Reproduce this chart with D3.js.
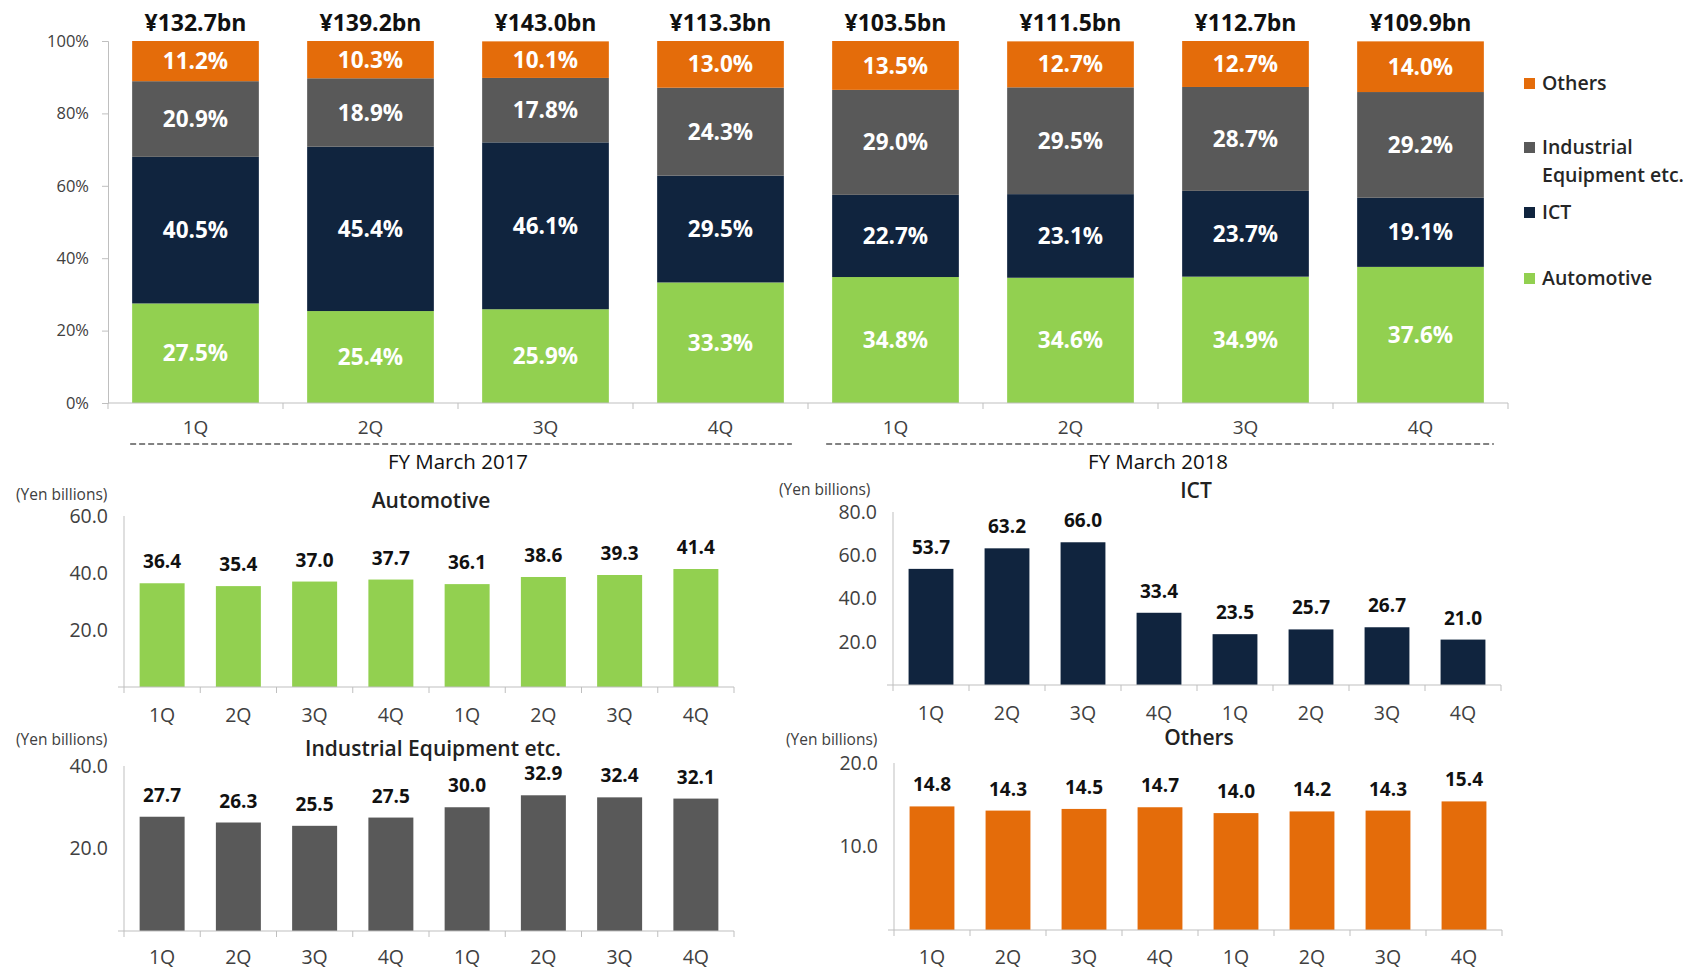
<!DOCTYPE html>
<html lang="en">
<head>
<meta charset="UTF-8">
<title>Sales by segment</title>
<script src="https://cdnjs.cloudflare.com/ajax/libs/d3/7.8.2/d3.min.js"></script>
<style>
  body { margin: 0; background: #fff; font-family: "Open Sans", "Noto Sans", sans-serif; }
  svg text { font-family: "Open Sans", "Noto Sans", sans-serif; }
</style>
</head>
<body>
<svg id="chart" width="1697" height="977"></svg>
<script>
// ---- data ----
const quarters = ["1Q", "2Q", "3Q", "4Q", "1Q", "2Q", "3Q", "4Q"];
const fiscalYears = ["FY March 2017", "FY March 2018"];
const totals = [132.7, 139.2, 143.0, 113.3, 103.5, 111.5, 112.7, 109.9];

const segments = ["Automotive", "ICT", "Industrial Equipment etc.", "Others"];
const sharePct = {
  "Automotive": [27.5, 25.4, 25.9, 33.3, 34.8, 34.6, 34.9, 37.6],
  "ICT": [40.5, 45.4, 46.1, 29.5, 22.7, 23.1, 23.7, 19.1],
  "Industrial Equipment etc.": [20.9, 18.9, 17.8, 24.3, 29.0, 29.5, 28.7, 29.2],
  "Others": [11.2, 10.3, 10.1, 13.0, 13.5, 12.7, 12.7, 14.0]
};

const autoSales = [36.4, 35.4, 37.0, 37.7, 36.1, 38.6, 39.3, 41.4];
const ictSales = [53.7, 63.2, 66.0, 33.4, 23.5, 25.7, 26.7, 21.0];
const industrialSales = [27.7, 26.3, 25.5, 27.5, 30.0, 32.9, 32.4, 32.1];
const othersSales = [14.8, 14.3, 14.5, 14.7, 14.0, 14.2, 14.3, 15.4];

const pctTicks = [0, 20, 40, 60, 80, 100];

const colors = {
  "Automotive": "#92d050",
  "ICT": "#10243e",
  "Industrial Equipment etc.": "#595959",
  "Others": "#e46c0a"
};

const svg = d3.select("#chart");
const axisColor = "#bfbfbf";
const labelColor = "#404040";

// ---- top stacked chart ----
const idx = d3.range(quarters.length);
const x = d3.scaleBand().domain(idx).range([108, 1508]).paddingInner(0.276).paddingOuter(0.138);
const y = d3.scaleLinear().domain([0, 100]).range([403, 41]);

const rows = idx.map(i => {
  const r = { i };
  segments.forEach(s => r[s] = sharePct[s][i]);
  return r;
});
const stacked = d3.stack().keys(segments)(rows);

const topG = svg.append("g");

stacked.forEach(layer => {
  const seg = layer.key;
  const g = topG.append("g");
  g.selectAll("rect").data(layer).join("rect")
    .attr("x", d => x(d.data.i))
    .attr("width", x.bandwidth())
    .attr("y", d => y(Math.min(100, d[1])))
    .attr("height", d => y(d[0]) - y(Math.min(100, d[1])))
    .attr("fill", colors[seg]);
  g.selectAll("text").data(layer).join("text")
    .attr("x", d => x(d.data.i) + x.bandwidth() / 2)
    .attr("y", d => (y(d[0]) + y(Math.min(100, d[1]))) / 2)
    .attr("dy", "0.36em")
    .attr("text-anchor", "middle")
    .attr("fill", "#fff")
    .attr("font-weight", 700)
    .attr("font-size", 22.5)
    .text(d => d.data[seg].toFixed(1) + "%");
});

// totals
topG.append("g").selectAll("text").data(idx).join("text")
  .attr("x", i => x(i) + x.bandwidth() / 2)
  .attr("y", 31)
  .attr("text-anchor", "middle")
  .attr("font-weight", 700)
  .attr("font-size", 23)
  .attr("fill", "#111")
  .text(i => "¥" + totals[i].toFixed(1) + "bn");

// y axis
const yAxis = topG.append("g")
  .attr("transform", "translate(108,0)")
  .call(d3.axisLeft(y).tickValues(pctTicks).tickFormat(d => d + "%").tickSize(6).tickPadding(13));
yAxis.selectAll("line, path").attr("stroke", axisColor);
yAxis.selectAll("text").attr("font-size", 16.5).attr("fill", labelColor).attr("font-family", "Open Sans");

// x axis line and ticks at band boundaries
const xAxisG = topG.append("g");
xAxisG.append("line").attr("x1", 108).attr("x2", 1508).attr("y1", 403).attr("y2", 403).attr("stroke", axisColor);
const step = x.step();
xAxisG.selectAll(".tk").data(d3.range(quarters.length + 1)).join("line")
  .attr("class", "tk")
  .attr("x1", k => 108 + k * step).attr("x2", k => 108 + k * step)
  .attr("y1", 403).attr("y2", 409).attr("stroke", axisColor);
xAxisG.selectAll("text").data(idx).join("text")
  .attr("x", i => x(i) + x.bandwidth() / 2)
  .attr("y", 434)
  .attr("text-anchor", "middle")
  .attr("font-size", 19)
  .attr("fill", labelColor)
  .text(i => quarters[i]);

// fiscal year brackets
fiscalYears.forEach((fy, k) => {
  const first = x(k * 4), last = x(k * 4 + 3) + x.bandwidth();
  const x1 = k === 0 ? first - 2 : first - 6;
  const x2 = k === 0 ? last + 8 : last + 10;
  topG.append("line")
    .attr("x1", x1).attr("x2", x2).attr("y1", 444).attr("y2", 444)
    .attr("stroke", "#595959").attr("stroke-width", 1.6).attr("stroke-dasharray", "6,3");
  topG.append("text")
    .attr("x", (first + last) / 2).attr("y", 469)
    .attr("text-anchor", "middle")
    .attr("font-size", 20.5)
    .attr("fill", "#111")
    .text(fy);
});

// legend (top-down order: Others, Industrial, ICT, Automotive)
const legendItems = [
  { key: "Others", lines: ["Others"], y: 83 },
  { key: "Industrial Equipment etc.", lines: ["Industrial", "Equipment etc."], y: 147 },
  { key: "ICT", lines: ["ICT"], y: 212 },
  { key: "Automotive", lines: ["Automotive"], y: 278 }
];
const legend = svg.append("g");
legendItems.forEach(it => {
  legend.append("rect").attr("x", 1524).attr("y", it.y - 5).attr("width", 11).attr("height", 11).attr("fill", colors[it.key]);
  it.lines.forEach((ln, j) => {
    legend.append("text")
      .attr("x", 1542).attr("y", it.y + j * 28)
      .attr("dy", "0.36em")
      .attr("font-size", 19.5)
      .attr("font-weight", 600)
      .attr("fill", "#262626")
      .text(ln);
  });
});

// ---- small bar charts ----
function smallChart(opt) {
  const g = svg.append("g");
  const sx = d3.scaleBand().domain(idx).range([opt.x0, opt.x1]).paddingInner(0.41).paddingOuter(0.205);
  const sy = d3.scaleLinear().domain([0, opt.max]).range([opt.yb, opt.yt]);

  g.selectAll("rect").data(opt.values).join("rect")
    .attr("x", (d, i) => sx(i))
    .attr("width", sx.bandwidth())
    .attr("y", d => sy(d))
    .attr("height", d => sy(0) - sy(d))
    .attr("fill", opt.color);

  g.selectAll(".val").data(opt.values).join("text")
    .attr("class", "val")
    .attr("x", (d, i) => sx(i) + sx.bandwidth() / 2)
    .attr("y", d => sy(d) - 15)
    .attr("text-anchor", "middle")
    .attr("font-weight", 700)
    .attr("font-size", 19)
    .attr("fill", "#111")
    .text(d => d.toFixed(1));

  const ya = g.append("g")
    .attr("transform", `translate(${opt.x0},0)`)
    .call(d3.axisLeft(sy).tickValues(opt.ticks).tickFormat(d3.format(".1f")).tickSize(0).tickPadding(16));
  ya.select("path").remove();
  ya.append("line").attr("x1", 0).attr("x2", 0).attr("y1", opt.yt).attr("y2", opt.yb).attr("stroke", axisColor);
  ya.append("line").attr("x1", -6).attr("x2", 0).attr("y1", opt.yb).attr("y2", opt.yb).attr("stroke", axisColor);
  ya.selectAll("text").attr("font-size", 19.5).attr("fill", labelColor).attr("font-family", "Open Sans");

  g.append("line").attr("x1", opt.x0).attr("x2", opt.x1).attr("y1", opt.yb).attr("y2", opt.yb).attr("stroke", axisColor);
  const st = sx.step();
  g.selectAll(".tk").data(d3.range(quarters.length + 1)).join("line")
    .attr("class", "tk")
    .attr("x1", k => opt.x0 + k * st).attr("x2", k => opt.x0 + k * st)
    .attr("y1", opt.yb).attr("y2", opt.yb + 6).attr("stroke", axisColor);
  g.selectAll(".cat").data(idx).join("text")
    .attr("class", "cat")
    .attr("x", i => sx(i) + sx.bandwidth() / 2)
    .attr("y", opt.catY)
    .attr("dy", "0.36em")
    .attr("text-anchor", "middle")
    .attr("font-size", 19.5)
    .attr("fill", labelColor)
    .text(i => quarters[i]);

  g.append("text")
    .attr("x", opt.titleX).attr("y", opt.titleY)
    .attr("dy", "0.36em")
    .attr("text-anchor", "middle")
    .attr("font-size", 21)
    .attr("font-weight", 600)
    .attr("fill", "#222")
    .text(opt.title);
  g.append("text")
    .attr("x", opt.unitX).attr("y", opt.unitY)
    .attr("dy", "0.36em")
    .attr("font-size", 15.5)
    .attr("fill", labelColor)
    .text("(Yen billions)");
}

smallChart({ values: autoSales, color: colors["Automotive"], max: 60, ticks: [20, 40, 60],
  x0: 124, x1: 734, yt: 516, yb: 687, catY: 715,
  title: "Automotive", titleX: 431, titleY: 500, unitX: 16, unitY: 494 });

smallChart({ values: industrialSales, color: colors["Industrial Equipment etc."], max: 40, ticks: [20, 40],
  x0: 124, x1: 734, yt: 766, yb: 931, catY: 957,
  title: "Industrial Equipment etc.", titleX: 433, titleY: 748, unitX: 16, unitY: 739 });

smallChart({ values: ictSales, color: colors["ICT"], max: 80, ticks: [20, 40, 60, 80],
  x0: 893, x1: 1501, yt: 512, yb: 685, catY: 713,
  title: "ICT", titleX: 1196, titleY: 490, unitX: 779, unitY: 489 });

smallChart({ values: othersSales, color: colors["Others"], max: 20, ticks: [10, 20],
  x0: 894, x1: 1502, yt: 763, yb: 930, catY: 957,
  title: "Others", titleX: 1199, titleY: 737, unitX: 786, unitY: 739 });
</script>
</body>
</html>
